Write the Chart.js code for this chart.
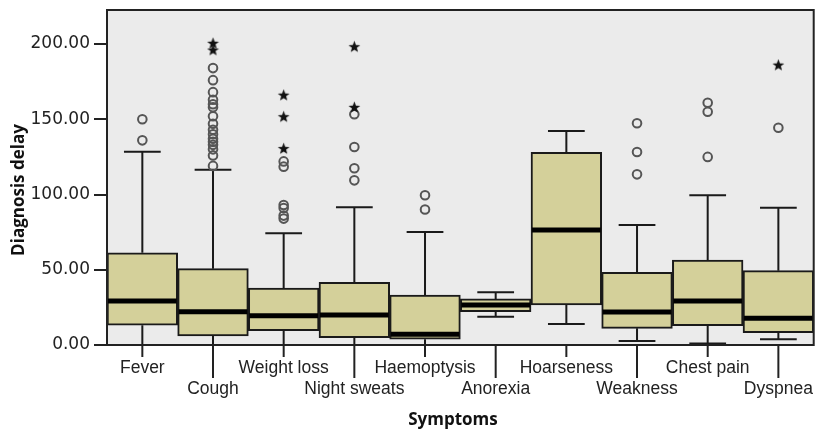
<!DOCTYPE html>
<html lang="en">
<head>
    <meta charset="UTF-8">
    <title>Diagnosis delay by symptom</title>
    <script src="https://cdn.jsdelivr.net/npm/chart.js"></script>
    <style>
        html, body { margin: 0; padding: 0; background: #fff; }
        #box { width: 820px; height: 429px; }
    </style>
</head>
<body>
    <div id="box"><canvas id="myChart"></canvas></div>

    <script>
        const categories = ['Fever', 'Cough', 'Weight loss', 'Night sweats', 'Haemoptysis',
            'Anorexia', 'Hoarseness', 'Weakness', 'Chest pain', 'Dyspnea'];
        const whiskerLow  = [0, 0, 0, 0, 0, 18.8, 14, 2.7, 1, 3.8];
        const q1          = [13.1, 6, 9.5, 4.9, 3.8, 22.1, 26.6, 11.1, 12.8, 8.2];
        const median      = [29.2, 22.1, 19.5, 19.9, 7.1, 26.6, 76.4, 21.9, 29.2, 17.7];
        const q3          = [61.3, 50.7, 37.9, 41.6, 33.2, 30.6, 128, 48.3, 56.5, 49.4];
        const whiskerHigh = [128.4, 116.5, 74.2, 91.5, 75.1, 35, 142.2, 79.7, 99.5, 91.2];
        const outlierCircles = [
            [136, 150],
            [119, 126, 130, 133, 135, 137, 140, 143, 147, 152, 158, 160, 163, 168, 176, 184],
            [84, 86, 91, 93, 118.5, 122],
            [109.4, 117.4, 131.6, 153.3],
            [90, 99.5],
            [], [],
            [113.4, 128.2, 147.3],
            [125, 155, 161],
            [144.4]
        ];
        const outlierStars = [
            [], [196, 200.5], [130.5, 151.7, 166], [157.9, 198.2], [], [], [], [], [], [186]
        ];
        const yTicks = [0, 50, 100, 150, 200];

        const toPoints = (lists) => lists.flatMap((vals, i) => vals.map(v => ({ x: categories[i], y: v })));

        // filled star used as point style
        const star = document.createElement('canvas');
        star.width = 13; star.height = 13;
        (function () {
            const c = star.getContext('2d');
            c.fillStyle = '#111';
            c.beginPath();
            for (let k = 0; k < 10; k++) {
                const r = k % 2 === 0 ? 6.2 : 2.6;
                const a = -Math.PI / 2 + k * Math.PI / 5;
                c.lineTo(6.5 + r * Math.cos(a), 6.8 + r * Math.sin(a));
            }
            c.closePath();
            c.fill();
        })();

        const boxPlugin = {
            id: 'boxPlugin',
            beforeDraw(chart) {
                const { ctx, chartArea: a } = chart;
                ctx.save();
                ctx.fillStyle = '#ebebeb';
                ctx.fillRect(a.left, a.top, a.right - a.left, a.bottom - a.top);
                ctx.restore();
            },
            afterDatasetDraw(chart, args) {
                if (args.index !== 0) return;
                const { ctx, scales: { x, y } } = chart;
                const step = x.getPixelForValue(1) - x.getPixelForValue(0);
                const cap = step * 0.26;
                ctx.save();
                categories.forEach((c, i) => {
                    const cx = x.getPixelForValue(i);
                    ctx.strokeStyle = '#1a1a1a';
                    ctx.lineWidth = 2;
                    ctx.beginPath();
                    ctx.moveTo(cx, y.getPixelForValue(q3[i]));
                    ctx.lineTo(cx, y.getPixelForValue(whiskerHigh[i]));
                    ctx.moveTo(cx - cap, y.getPixelForValue(whiskerHigh[i]));
                    ctx.lineTo(cx + cap, y.getPixelForValue(whiskerHigh[i]));
                    ctx.moveTo(cx, y.getPixelForValue(q1[i]));
                    ctx.lineTo(cx, y.getPixelForValue(whiskerLow[i]));
                    ctx.moveTo(cx - cap, y.getPixelForValue(whiskerLow[i]));
                    ctx.lineTo(cx + cap, y.getPixelForValue(whiskerLow[i]));
                    ctx.stroke();
                    ctx.lineWidth = 5;
                    ctx.strokeStyle = '#000';
                    ctx.beginPath();
                    ctx.moveTo(cx - step / 2 + 1, y.getPixelForValue(median[i]));
                    ctx.lineTo(cx + step / 2 - 1, y.getPixelForValue(median[i]));
                    ctx.stroke();
                });
                ctx.restore();
            },
            afterDraw(chart) {
                const { ctx, chartArea: a, scales: { x } } = chart;
                ctx.save();
                ctx.strokeStyle = '#222';
                ctx.lineWidth = 2;
                ctx.strokeRect(a.left, a.top, a.right - a.left, a.bottom - a.top);
                // category ticks, long ones for the second label row
                categories.forEach((c, i) => {
                    const cx = x.getPixelForValue(i);
                    ctx.beginPath();
                    ctx.moveTo(cx, a.bottom);
                    ctx.lineTo(cx, a.bottom + (i % 2 === 0 ? 12 : 33));
                    ctx.stroke();
                });
                // axis titles
                ctx.fillStyle = '#111';
                ctx.font = 'bold 17px "Open Sans"';
                ctx.textAlign = 'center';
                ctx.textBaseline = 'middle';
                ctx.fillText('Symptoms', 453, 420);
                ctx.translate(19, 190);
                ctx.rotate(-Math.PI / 2);
                ctx.fillText('Diagnosis delay', 0, 0);
                ctx.restore();
            }
        };

        const chart = new Chart(document.getElementById('myChart'), {
            type: 'bar',
            data: {
                labels: categories,
                datasets: [{
                    data: categories.map((c, i) => [q1[i], q3[i]]),
                    backgroundColor: '#d4d09a',
                    borderColor: '#1a1a1a',
                    borderWidth: 2,
                    borderSkipped: false,
                    categoryPercentage: 1,
                    barPercentage: 1,
                    order: 2
                }, {
                    type: 'line',
                    showLine: false,
                    data: toPoints(outlierCircles),
                    pointStyle: 'circle',
                    pointRadius: 4.3,
                    pointBorderWidth: 2,
                    pointBorderColor: '#555',
                    pointBackgroundColor: 'rgba(0,0,0,0)',
                    order: 1
                }, {
                    type: 'line',
                    showLine: false,
                    data: toPoints(outlierStars),
                    pointStyle: star,
                    order: 0
                }]
            },
            options: {
                responsive: true,
                maintainAspectRatio: false,
                animation: false,
                layout: { padding: { top: 10, right: 5, left: 0, bottom: 0 } },
                plugins: { legend: { display: false }, tooltip: { enabled: false } },
                scales: {
                    x: {
                        border: { display: false },
                        grid: { display: false, drawTicks: false },
                        ticks: {
                            padding: 13,
                            color: '#222',
                            font: { family: '"Liberation Sans"', size: 17.5, lineHeight: 1.2 },
                            maxRotation: 0,
                            autoSkip: false,
                            // every second label goes on a lower row
                            callback: (v, i) => i % 2 === 0 ? categories[i] : ['', categories[i]]
                        },
                        afterFit(scale) {
                            scale.height = 84;
                            scale.paddingLeft = 0;
                            scale.paddingRight = 0;
                        }
                    },
                    y: {
                        min: 0,
                        max: 222.6,
                        border: { display: false },
                        grid: { drawOnChartArea: false, tickLength: 13, tickColor: '#222', lineWidth: 2 },
                        afterBuildTicks(scale) { scale.ticks = yTicks.map(v => ({ value: v })); },
                        ticks: {
                            padding: 4,
                            color: '#222',
                            font: { family: '"DejaVu Sans"', size: 17 },
                            callback: v => v.toFixed(2)
                        },
                        afterFit(scale) {
                            scale.width = 107;
                            scale.paddingTop = 0;
                            scale.paddingBottom = 0;
                        }
                    }
                }
            },
            plugins: [boxPlugin]
        });
    </script>
</body>
</html>
